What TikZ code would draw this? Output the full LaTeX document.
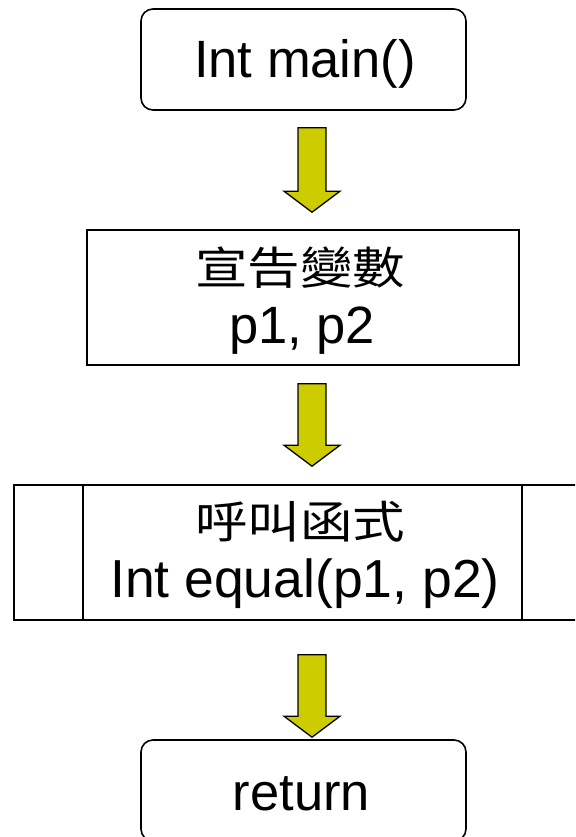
\documentclass[tikz,border=0pt]{standalone}
\usepackage{fontspec}
\usepackage{graphicx}
\setmainfont{Liberation Sans}
\newfontfamily\cjk{Noto Sans CJK TC}
\usetikzlibrary{calc}
\definecolor{arrowfill}{RGB}{204,204,0}
\newcommand\cjkline[1]{\scalebox{1}[0.85]{\cjk #1}}
\tikzset{
  roundbox/.style={draw=black, line width=1.6pt, rounded corners=12pt, inner sep=0pt, minimum width=325pt, minimum height=101pt},
  plainbox/.style={draw=black, line width=1.6pt, inner sep=0pt},
  txt/.style={anchor=base, inner sep=0pt, font=\fontsize{52.5}{60}\selectfont},
  cjktxt/.style={anchor=base, inner sep=0pt, font=\fontsize{52.5}{60}\selectfont},
  arrowshape/.style={draw=black, line width=1.3pt, fill=arrowfill, line join=miter}
}
\newcommand\blockarrow[2]{%
  \draw[arrowshape] ($(#1)+(-14,0)$) -- ($(#1)+(14,0)$) -- ($(#2)+(14,-21)$) -- ($(#2)+(28,-21)$) -- (#2) -- ($(#2)+(-28,-21)$) -- ($(#2)+(-14,-21)$) -- cycle;}
\begin{document}
\begin{tikzpicture}[x=1pt,y=-1pt]
\useasboundingbox (0,0) rectangle (575,837);
\clip (0,0) rectangle (575,837);
% boxes
\node[roundbox] (box1) at (303.5,59.5) {};
\node[plainbox, minimum width=432pt, minimum height=135pt] (box2) at (303,297.5) {};
\node[plainbox, minimum width=577pt, minimum height=135pt] (box3) at (302.5,552.5) {};
\draw[line width=1.6pt] ($(box3.north west)+(70,0)$) -- ($(box3.south west)+(70,0)$);
\draw[line width=1.6pt] ($(box3.north east)+(-70,0)$) -- ($(box3.south east)+(-70,0)$);
\node[roundbox] (box4) at (303.5,790.5) {};
% texts
\node[txt] (t1) at (305,78) {Int main()};
\node[cjktxt] (t2a) at (300,284) {\cjkline{宣告變數}};
\node[txt] (t2b) at (302,343) {p1, p2};
\node[cjktxt] (t3a) at (300,538) {\cjkline{呼叫函式}};
\node[txt] (t3b) at (305,597) {\fontsize{53.5}{60}\selectfont Int equal(p1, p2)};
\node[txt] (t4) at (301.5,810) {return};
% arrows
\coordinate (a1s) at ($(box1.south)+(8.5,17)$);
\coordinate (a1e) at ($(box2.north)+(9,-17)$);
\coordinate (a2s) at ($(box2.south)+(9,18)$);
\coordinate (a2e) at ($(box3.north)+(9.5,-18)$);
\coordinate (a3s) at ($(box3.south)+(9.5,34)$);
\coordinate (a3e) at ($(box4.north)+(8.5,-2)$);
\blockarrow{a1s}{a1e}
\blockarrow{a2s}{a2e}
\blockarrow{a3s}{a3e}
\end{tikzpicture}
\end{document}
